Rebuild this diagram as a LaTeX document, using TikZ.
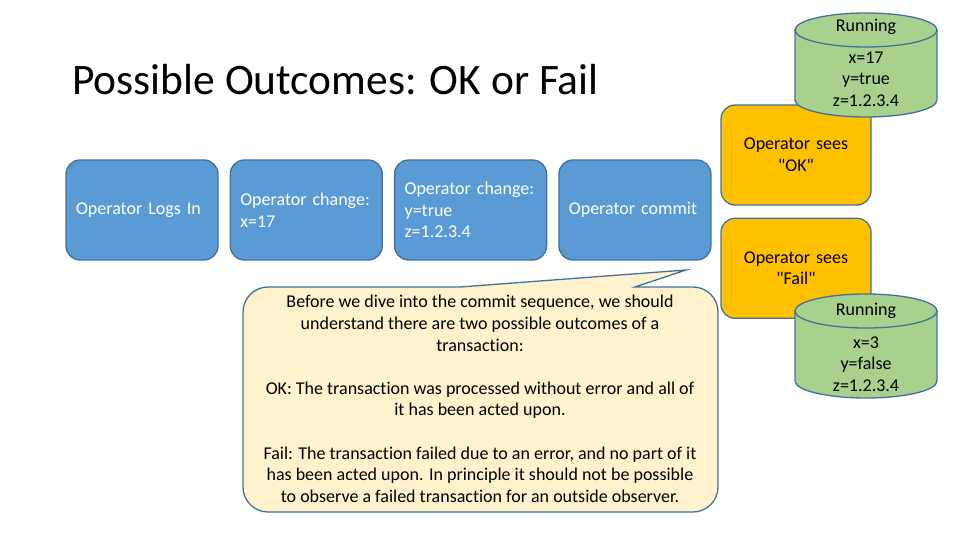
\documentclass[tikz,border=0pt]{standalone}
\usepackage{fontspec}
\setmainfont{Carlito}[Ligatures=NoCommon]
\usetikzlibrary{positioning}

\definecolor{stepblue}{HTML}{5B9BD5}
\definecolor{edgeblue}{HTML}{41719C}
\definecolor{seesorange}{HTML}{FFC000}
\definecolor{rungreen}{HTML}{A9D18E}
\definecolor{noteyellow}{HTML}{FFF2CC}

\begin{document}
\begin{tikzpicture}[x=1pt, y=-1pt, node distance=11pt,
    stepbox/.style={draw=edgeblue, line width=1.3pt, fill=stepblue, rounded corners=14pt,
        minimum width=152pt, minimum height=100pt, text width=132pt, inner sep=10pt,
        align=left, text=white, font=\fontsize{18}{21.6}\selectfont},
    seesbox/.style={draw=edgeblue, line width=1.3pt, fill=seesorange, rounded corners=14pt,
        minimum width=150pt, minimum height=100pt, text width=130pt, align=center,
        font=\fontsize{18}{21.6}\selectfont},
    cyl/.style={draw=edgeblue, line width=1.3pt, fill=rungreen},
    cyltext/.style={align=center, font=\fontsize{18}{21.6}\selectfont}]
    \useasboundingbox (0,0) rectangle (960,540);

    % title
    \node [anchor=west, inner sep=0pt, font=\fontsize{43.5}{52}\selectfont] (title) at (72,80) {Possible Outcomes: OK or Fail};

    % sequence of operator steps
    \node [stepbox] (login) at (142,210) {Operator Logs In};
    \node [stepbox, right=of login] (chgx) {Operator change:\\x=17};
    \node [stepbox, right=of chgx] (chgyz) {Operator change:\\y=true\\z=1.2.3.4};
    \node [stepbox, right=of chgyz] (commit) {Operator commit};

    % outcomes
    \node [seesbox] (seesok) at (796,155) {Operator sees\\\textquotedbl OK\textquotedbl};
    \node [seesbox, below=12pt of seesok] (seesfail) {Operator sees\\\textquotedbl Fail\textquotedbl};

    % running config after OK
    \filldraw [cyl] (795,30) -- (795,100) arc [start angle=180, end angle=0, x radius=71, y radius=17] -- (937,30) -- cycle;
    \filldraw [cyl] (866,30) ellipse [x radius=71, y radius=17];
    \node [cyltext] (runok) at (866,27) {Running};
    \node [cyltext] (valok) at (866,79) {x=17\\y=true\\z=1.2.3.4};

    % running config after Fail
    \filldraw [cyl] (795,311) -- (795,381) arc [start angle=180, end angle=0, x radius=71, y radius=17] -- (937,311) -- cycle;
    \filldraw [cyl] (866,311) ellipse [x radius=71, y radius=17];
    \node [cyltext] (runfail) at (866,311) {Running};
    \node [cyltext] (valfail) at (866,364) {x=3\\y=false\\z=1.2.3.4};

    % callout with explanation
    \filldraw [draw=edgeblue, line width=1.3pt, fill=noteyellow]
        (460,287) -- (686,270) -- (635,287) -- (693,287)
        arc [start angle=-90, end angle=0, radius=25] -- (718,487)
        arc [start angle=0, end angle=90, radius=25] -- (268,512)
        arc [start angle=90, end angle=180, radius=25] -- (243,312)
        arc [start angle=180, end angle=270, radius=25] -- cycle;
    \node [align=center, font=\fontsize{18}{21.6}\selectfont] (note) at (480,399)
        {Before we dive into the commit sequence, we should\\
         understand there are two possible outcomes of a\\
         transaction:\\[21.6pt]
         OK: The transaction was processed without error and all of\\
         it has been acted upon.\\[21.6pt]
         Fail: The transaction failed due to an error, and no part of it\\
         has been acted upon. In principle it should not be possible\\
         to observe a failed transaction for an outside observer.};
\end{tikzpicture}
\end{document}
